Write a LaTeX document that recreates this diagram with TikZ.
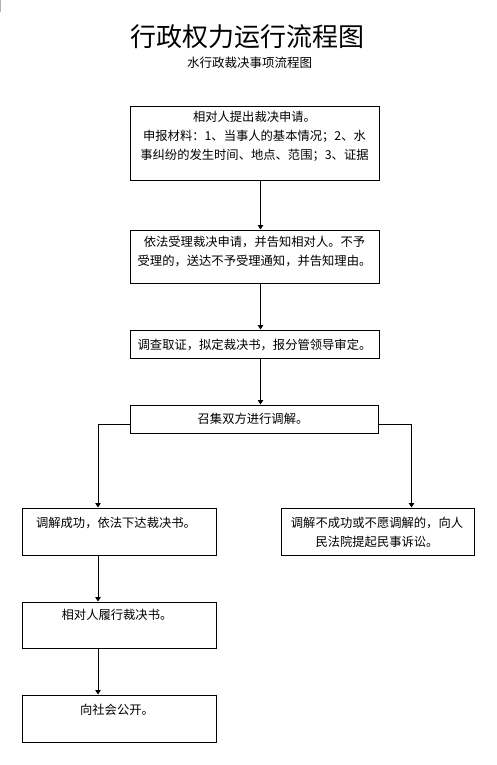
\documentclass[tikz,border=0pt]{standalone}
\usepackage{fontspec}
\setmainfont{Noto Sans CJK SC}
\usetikzlibrary{arrows.meta}
\begin{document}
\begin{tikzpicture}[x=1bp,y=-1bp,
  box/.style={draw=black,line width=1bp,inner sep=0pt},
  txt/.style={font=\fontsize{12.3bp}{19bp}\selectfont,align=center,inner sep=0pt},
  arr/.style={draw=black,line width=1bp,-{Triangle[width=5.5bp,length=4.5bp]}}]
\useasboundingbox (0,0) rectangle (497,765);
\fill[white] (0,0) rectangle (497,765);
\draw[gray!60,line width=1bp] (0.5,0) -- (0.5,12);
\node[inner sep=0pt,font=\fontsize{26bp}{29bp}\selectfont] (title) at (247.5,37) {行政权力运行流程图};
\node[inner sep=0pt,font=\fontsize{12.5bp}{15bp}\selectfont] (sub) at (249.5,63) {水行政裁决事项流程图};
% boxes
\node[box,minimum width=249bp,minimum height=74bp] (b1) at (254.5,143) {};
\node[box,minimum width=249bp,minimum height=53bp] (b2) at (254.5,256.5) {};
\node[box,minimum width=249bp,minimum height=28bp] (b3) at (254.5,344) {};
\node[box,minimum width=248bp,minimum height=28bp] (b4) at (254,419) {};
\node[box,minimum width=193bp,minimum height=47bp] (b5) at (119.5,531.5) {};
\node[box,minimum width=193bp,minimum height=47bp] (b6) at (378,531.5) {};
\node[box,minimum width=193bp,minimum height=46bp] (b7) at (119.5,625) {};
\node[box,minimum width=193bp,minimum height=47bp] (b8) at (119.5,718.5) {};
% texts
\node[txt] (t1) at (254.5,136) {相对人提出裁决申请。\\申报材料：1、当事人的基本情况；2、水\\事纠纷的发生时间、地点、范围；3、证据};
\node[txt] (t2) at (254.5,251.5) {依法受理裁决申请，并告知相对人。不予\\受理的，送达不予受理通知，并告知理由。};
\node[txt] (t3) at (254.5,345) {调查取证，拟定裁决书，报分管领导审定。};
\node[txt] (t4) at (253,419) {召集双方进行调解。};
\node[txt] (t5) at (116,523) {调解成功，依法下达裁决书。};
\node[txt] (t6) at (377,532.5) {调解不成功或不愿调解的，向人\\民法院提起民事诉讼。};
\node[txt] (t7) at (117,615) {相对人履行裁决书。};
\node[txt] (t8) at (117,710) {向社会公开。};
% connector guide coordinates
\coordinate (xm) at (260.5,0);
\coordinate (xl) at (98,0);
\coordinate (xr) at (411.5,0);
\coordinate (yb) at (0,424);
% connectors
\draw[arr] (b1.south -| xm) -- (b2.north -| xm);
\draw[arr] (b2.south -| xm) -- (b3.north -| xm);
\draw[arr] (b3.south -| xm) -- (b4.north -| xm);
\draw[arr] (b4.west |- yb) -| (b5.north -| xl);
\draw[arr] (b4.east |- yb) -| (b6.north -| xr);
\draw[arr] (b5.south -| xl) -- (b7.north -| xl);
\draw[arr] (b7.south -| xl) -- (b8.north -| xl);
\end{tikzpicture}
\end{document}
